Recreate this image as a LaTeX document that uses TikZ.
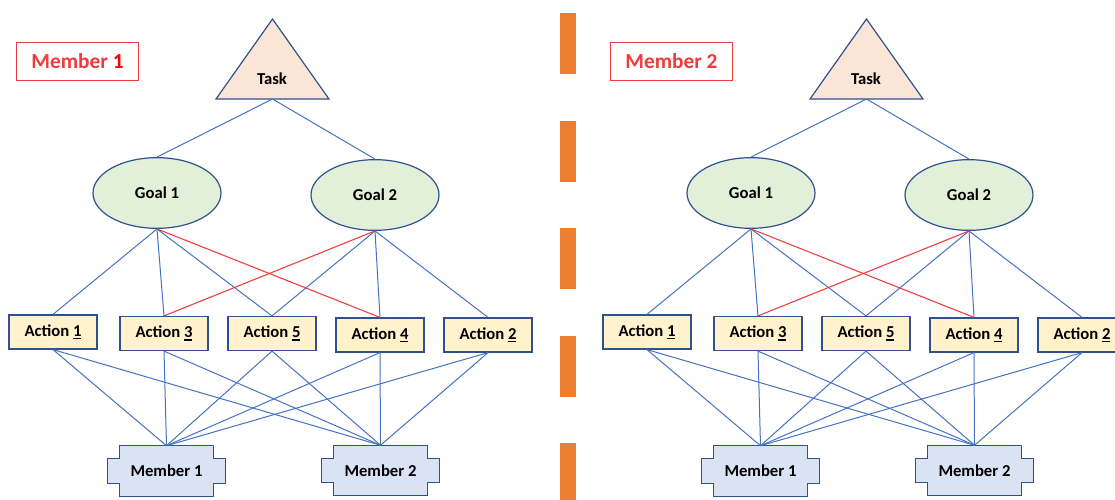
\documentclass[tikz,border=0pt]{standalone}
\usepackage{fontspec}
\setmainfont{Carlito}
\usepackage{tikz}
\usetikzlibrary{calc,backgrounds,shapes.geometric}

\definecolor{linkblue}{HTML}{4472C4}
\definecolor{edgeblue}{HTML}{2F528F}
\definecolor{linkred}{HTML}{F03C3C}
\definecolor{taskfill}{HTML}{FBE5D6}
\definecolor{goalfill}{HTML}{E2F0D9}
\definecolor{actfill}{HTML}{FFF2CC}
\definecolor{memfill}{HTML}{DAE3F3}
\definecolor{divorange}{HTML}{ED7D31}
\definecolor{tagred}{HTML}{EE3B3B}

% thick underline for the action numbers
\newcommand{\udigit}[1]{\setbox0\hbox{#1}\rlap{\rule[-2.3pt]{\wd0}{1.1pt}}\box0}

\tikzset{
  link/.style={linkblue,line width=0.75pt},
  clash/.style={linkred,line width=0.8pt},
  goal/.style={ellipse,draw=edgeblue,fill=goalfill,line width=0.9pt,minimum width=96pt,minimum height=53pt},
  act/.style={rectangle,draw=edgeblue,fill=actfill,line width=0.9pt,minimum width=66pt,minimum height=25.5pt,inner sep=0pt},
  member/.style={rectangle,minimum width=87.75pt,minimum height=37.5pt,inner sep=0pt},
  tag/.style={draw=tagred,text=tagred,line width=0.7pt,minimum width=92pt,minimum height=29pt,font=\bfseries\fontsize{16}{19}\selectfont},
}

% member node with notched corners
\newcommand{\memberbox}[3]{%
  \node[member] (#1) at (#2) {#3};
  \begin{scope}[on background layer]
    \draw[draw=edgeblue,fill=memfill,line width=0.9pt]
      ($(#1.north west)+(8.6pt,0pt)$) -- ($(#1.north east)+(-8.6pt,0pt)$)
      -- ++(0pt,-9.75pt) -- ++(8.6pt,0pt) -- ($(#1.south east)+(0pt,9.75pt)$)
      -- ++(-8.6pt,0pt) -- ($(#1.south east)+(-8.6pt,0pt)$)
      -- ($(#1.south west)+(8.6pt,0pt)$) -- ++(0pt,9.75pt) -- ++(-8.6pt,0pt)
      -- ($(#1.north west)+(0pt,-9.75pt)$) -- ++(8.6pt,0pt) -- cycle;
  \end{scope}}

\begin{document}
\begin{tikzpicture}[x=0.75pt,y=-0.75pt,font=\bfseries\fontsize{12.5}{15}\selectfont]
\useasboundingbox (0,0) rectangle (1115,500);
% divider
\draw[divorange,line width=12pt,dash pattern=on 45.75pt off 34.9pt] (568,13) -- (568,500);
\foreach \p/\dx/\who in {L/0/{Member \textcolor{red}{1}},R/594/{Member 2}}{
\begin{scope}[shift={(\dx,0)}]
\node[tag] (\p tag) at (77.5,61.5) {\who};
\draw[draw=edgeblue,fill=taskfill,line width=0.9pt] (272.5,19) -- (329,99) -- (216,99) -- cycle;
\node (\p task) at (272,79) {Task};
\coordinate (\p base) at (272.5,99);
\node[goal] (\p g1) at (157,193) {Goal 1};
\node[goal] (\p g2) at (375,195) {Goal 2};
\node[act] (\p a1) at (53,332) {Action \udigit{1}};
\node[act] (\p a3) at (164,333.5) {Action \udigit{3}};
\node[act] (\p a5) at (272,333.5) {Action \udigit{5}};
\node[act] (\p a4) at (380,335) {Action \udigit{4}};
\node[act] (\p a2) at (488,335) {Action \udigit{2}};
\memberbox{\p m1}{166.5,471}{Member 1}
\memberbox{\p m2}{380.5,470.5}{Member 2}
% task to goals
\draw[link] (\p base) -- (\p g1.north);
\draw[link] (\p base) -- (\p g2.north);
% goals to actions
\foreach \a in {a1,a3,a5} \draw[link] (\p g1.south) -- (\p\a.north);
\foreach \a in {a5,a4,a2} \draw[link] (\p g2.south) -- (\p\a.north);
\draw[clash] (\p g1.south) -- (\p a4.north);
\draw[clash] (\p g2.south) -- (\p a3.north);
% actions to members
\foreach \a in {a1,a3,a5,a4,a2} {
  \draw[link] (\p\a.south) -- (\p m1.north);
  \draw[link] (\p\a.south) -- (\p m2.north);
}
\end{scope}}
\end{tikzpicture}
\end{document}
